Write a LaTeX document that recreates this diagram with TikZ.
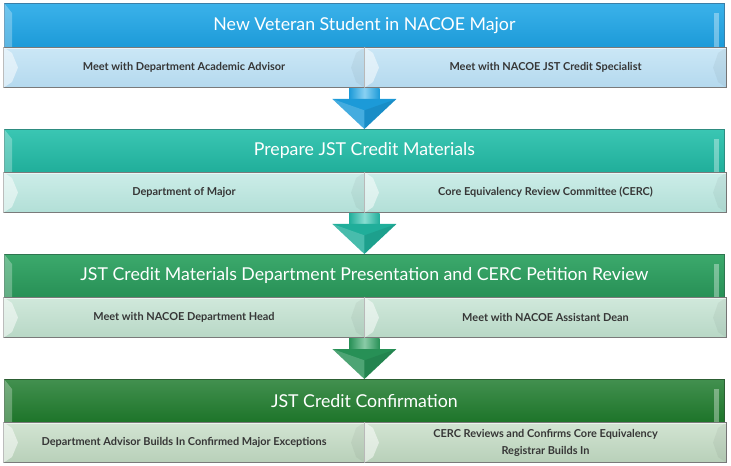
\documentclass[tikz,border=0pt]{standalone}
\usepackage{fontspec}
\setmainfont{Lato}
\usetikzlibrary{calc}
\definecolor{bT}{HTML}{3BB2EA}\definecolor{bB}{HTML}{1C9AD8}\definecolor{bD}{HTML}{3A7FA8}
\definecolor{bsT}{HTML}{CBE7F6}\definecolor{bsB}{HTML}{B4D9EE}
\definecolor{tT}{HTML}{3AC6B3}\definecolor{tB}{HTML}{20AE9A}\definecolor{tD}{HTML}{2E8C80}
\definecolor{tsT}{HTML}{CCEDE8}\definecolor{tsB}{HTML}{B2DFD7}
\definecolor{gT}{HTML}{3CA96C}\definecolor{gB}{HTML}{279056}\definecolor{gD}{HTML}{2F7550}
\definecolor{gsT}{HTML}{D0E8DB}\definecolor{gsB}{HTML}{B8D8C6}
\definecolor{dT}{HTML}{42904F}\definecolor{dB}{HTML}{1D7429}\definecolor{dD}{HTML}{2C5E33}
\definecolor{dsT}{HTML}{D2E4D2}\definecolor{dsB}{HTML}{B8D0B9}
\definecolor{subtxt}{HTML}{363636}
\definecolor{subline}{HTML}{7A7A7A}
\newcommand\hdrbevel[1]{%
  \fill[white,opacity=.28] (#1.north west) -- ++(8,10) -- ($(#1.south west)+(8,0)$) -- (#1.south west) -- cycle;
  \fill[white,opacity=.35] ($(#1.north east)+(-11,10)$) rectangle ($(#1.south east)+(-6,0)$);}
\newcommand\subbevel[1]{%
  \fill[white,opacity=.5] (#1.north west) -- ++(9,6) -- ($(#1.west)+(15,0)$) -- ($(#1.south west)+(9,-6)$) -- (#1.south west) -- cycle;
  \fill[black,opacity=.045] (#1.north east) -- ++(-9,6) -- ($(#1.east)+(-14,0)$) -- ($(#1.south east)+(-9,-6)$) -- (#1.south east) -- cycle;
  \draw[white,opacity=.6,line width=.4pt] ($(#1.north west)+(1,1)$) -- ($(#1.north east)+(-1,1)$);}
\newcommand\stagearrow[4]{% from, to, dark, light
  \shade[left color=#3, right color=#3, middle color=#4]
    let \p1=(#1), \p2=(#2) in
    (\x2-11.5pt,\y1) rectangle (\x2+11.5pt,\y2+22pt);
  \fill[#3] let \p2=(#2) in
    (\x2-24pt,\y2+22.5pt) -- (\x2+24pt,\y2+22.5pt) -- (\x2,\y2) -- cycle;
  \fill[white,opacity=.18] let \p2=(#2) in
    (\x2-24pt,\y2+22.5pt) -- (\x2,\y2+14pt) -- (\x2,\y2) -- cycle;
  \fill[black,opacity=.08] let \p2=(#2) in
    (\x2+24pt,\y2+22.5pt) -- (\x2,\y2+14pt) -- (\x2,\y2) -- cycle;}
\begin{document}
\begin{tikzpicture}[x=0.75pt,y=-0.75pt,
  hdr/.style={anchor=north west, inner sep=0pt, minimum width=540pt, text=white,
     font=\fontsize{13.3}{15}\selectfont, line width=0.6pt},
  subbox/.style={anchor=north west, inner sep=0pt, minimum height=30pt, text=subtxt,
     font=\fontsize{8.2}{12.75}\selectfont\bfseries, draw=subline, line width=0.8pt, align=center},
  lsub/.style={subbox, minimum width=270.75pt},
  rsub/.style={subbox, minimum width=271.5pt}]
\useasboundingbox (0,0) rectangle (731,466);
% stage 1
\node[hdr, minimum height=33pt, top color=bT, bottom color=bB, draw=bD] (h1) at (4,3) {New Veteran Student in NACOE Major};
\hdrbevel{h1}
\node[lsub, top color=bsT, bottom color=bsB] (l1) at (3,47) {Meet with Department Academic Advisor};
\node[rsub, top color=bsT, bottom color=bsB] (r1) at (364,47) {Meet with NACOE JST Credit Specialist};
\subbevel{l1}\subbevel{r1}
% stage 2
\node[hdr, minimum height=32.25pt, top color=tT, bottom color=tB, draw=tD] (h2) at (4,129) {Prepare JST Credit Materials};
\hdrbevel{h2}
\node[lsub, top color=tsT, bottom color=tsB] (l2) at (3,172) {Department of Major};
\node[rsub, top color=tsT, bottom color=tsB] (r2) at (364,172) {Core Equivalency Review Committee (CERC)};
\subbevel{l2}\subbevel{r2}
% stage 3
\node[hdr, minimum height=32.25pt, top color=gT, bottom color=gB, draw=gD] (h3) at (4,254) {JST Credit Materials Department Presentation and CERC Petition Review};
\hdrbevel{h3}
\node[lsub, top color=gsT, bottom color=gsB] (l3) at (3,297) {Meet with NACOE Department Head};
\node[rsub, top color=gsT, bottom color=gsB] (r3) at (364,297) {Meet with NACOE Assistant Dean};
\subbevel{l3}\subbevel{r3}
% stage 4
\node[hdr, minimum height=32.25pt, top color=dT, bottom color=dB, draw=dD] (h4) at (4,379) {JST Credit Confirmation};
\hdrbevel{h4}
\node[lsub, top color=dsT, bottom color=dsB] (l4) at (3,422) {Department Advisor Builds In Confirmed Major Exceptions};
\node[rsub, top color=dsT, bottom color=dsB] (r4) at (364,422) {CERC Reviews and Confirms Core Equivalency\\Registrar Builds In};
\subbevel{l4}\subbevel{r4}
% arrows
\stagearrow{l1.south east}{h2.north}{bB}{bT!60!white}
\stagearrow{l2.south east}{h3.north}{tB}{tT!60!white}
\stagearrow{l3.south east}{h4.north}{gB}{gT!60!white}
\end{tikzpicture}
\end{document}
